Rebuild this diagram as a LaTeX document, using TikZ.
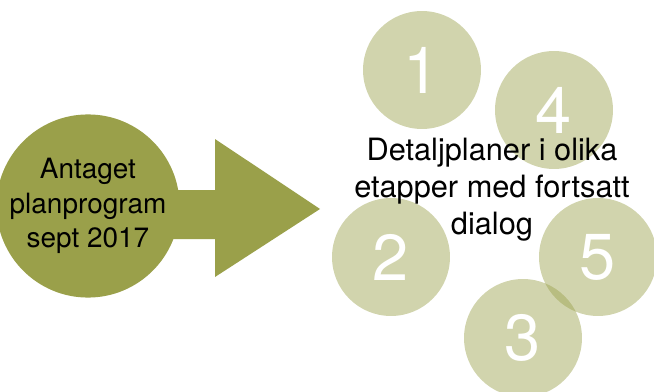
\documentclass[tikz,border=0pt]{standalone}
\usepackage{fontspec}
\setmainfont{TeX Gyre Heros}
\usepackage{xcolor}

\definecolor{olivegreen}{RGB}{154,160,74}

\tikzset{
    stage/.style={circle, fill=olivegreen, fill opacity=0.45, text opacity=1,
        text=white, minimum size=2.36cm, inner sep=0pt,
        font=\fontsize{37}{37}\selectfont},
    bigtext/.style={align=center, text=black, font=\fontsize{17.5}{21}\selectfont}
}

\begin{document}
\begin{tikzpicture}[x=0.02cm, y=-0.02cm]
    \useasboundingbox (0,0) rectangle (654,392);
    % block arrow
    \fill[olivegreen] (100,190) -- (215,190) -- (215,139) -- (320,209)
        -- (215,277) -- (215,239) -- (100,239) -- cycle;
    \node[circle, fill=olivegreen, minimum size=3.3cm, inner sep=0pt,
        bigtext, font=\fontsize{15.9}{19.8}\selectfont] (start) at (88,206)
        {Antaget\\planprogram\\sept 2017};
    % stages
    \node[stage] (s1) at (422,70) {1};
    \node[stage] (s4) at (554,110) {4};
    \node[stage] (s2) at (391,257) {2};
    \node[stage] (s5) at (598,257) {5};
    \node[stage] (s3) at (523,338) {3};
    \node[bigtext] (plan) at (492,190) {Detaljplaner i olika\\etapper med fortsatt\\dialog};
\end{tikzpicture}
\end{document}
